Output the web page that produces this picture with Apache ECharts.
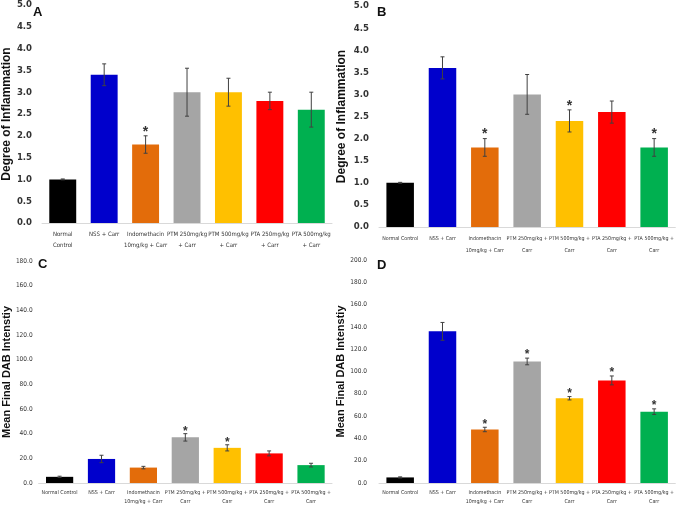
<!DOCTYPE html>
<html>
<head>
<meta charset="utf-8">
<script src="https://cdn.jsdelivr.net/npm/echarts@6/dist/echarts.min.js"></script>
<style>
  html, body { margin: 0; padding: 0; background: #fff; }
  #chart { width: 677px; height: 506px; }
</style>
</head>
<body>
<div id="chart"></div>
<script>
var catsA = ['Normal\nControl', 'NSS + Carr', 'Indomethacin\n10mg/kg + Carr', 'PTM 250mg/kg\n+ Carr', 'PTM 500mg/kg\n+ Carr', 'PTA 250mg/kg\n+ Carr', 'PTA 500mg/kg\n+ Carr']
var catsB = ['Normal Control', 'NSS + Carr', 'Indomethacin\n10mg/kg + Carr', 'PTM 250mg/kg +\nCarr', 'PTM 500mg/kg +\nCarr', 'PTA 250mg/kg +\nCarr', 'PTA 500mg/kg +\nCarr']

var barColors = ['#000000', '#0000CC', '#E36C0A', '#A5A5A5', '#FFC000', '#FF0000', '#00B050']

// panel A - degree of inflammation
var valA = [1.0, 3.4, 1.8, 3.0, 3.0, 2.8, 2.6]
var errA = [0.01, 0.25, 0.2, 0.55, 0.32, 0.2, 0.4]
var starA = [0, 0, 1, 0, 0, 0, 0]

// panel B
var valB = [1.0, 3.6, 1.8, 3.0, 2.4, 2.6, 1.8]
var errB = [0.01, 0.25, 0.2, 0.45, 0.25, 0.25, 0.2]
var starB = [0, 0, 1, 0, 1, 0, 1]

// panel C - mean final DAB intensity
var valC = [5, 19.5, 12.5, 37, 28.5, 24, 14.5]
var errC = [0.5, 3, 1, 3, 2.5, 2, 1.5]
var starC = [0, 0, 0, 1, 1, 0, 0]

// panel D
var valD = [5, 136, 48, 109, 76, 92, 64]
var errD = [0.5, 8, 2, 3, 1.5, 4, 2.5]
var starD = [0, 0, 1, 1, 1, 1, 1]

var narrow = "'Liberation Sans Narrow', 'DejaVu Sans Condensed', sans-serif"

var chart = echarts.init(document.getElementById('chart'))

function errRender(gap, starSize) {
  return function (params, api) {
    var x = api.value(0), y = api.value(1), e = api.value(2)
    var hi = api.coord([x, y + e])
    var lo = api.coord([x, y - e])
    var st = { stroke: '#404040', lineWidth: 1 }
    var kids = [
      { type: 'line', shape: { x1: hi[0], y1: hi[1], x2: lo[0], y2: lo[1] }, style: st },
      { type: 'line', shape: { x1: hi[0] - 2, y1: hi[1], x2: hi[0] + 2, y2: hi[1] }, style: st },
      { type: 'line', shape: { x1: lo[0] - 2, y1: lo[1], x2: lo[0] + 2, y2: lo[1] }, style: st }
    ]
    if (api.value(3)) {
      kids.push({
        type: 'text',
        style: {
          text: '*', x: hi[0], y: hi[1] - gap,
          align: 'center', verticalAlign: 'middle',
          font: 'bold ' + starSize + 'px Liberation Sans', fill: '#333'
        }
      })
    }
    return { type: 'group', children: kids }
  }
}

function panel(idx, cats, vals, errs, stars, gap, starSize) {
  var data = vals.map(function (v, i) {
    return { value: v, itemStyle: { color: barColors[i] } }
  })
  var edata = vals.map(function (v, i) { return [i, v, errs[i], stars[i]] })
  return [
    {
      type: 'bar', xAxisIndex: idx, yAxisIndex: idx,
      data: data, barWidth: '65%', silent: true, animation: false
    },
    {
      type: 'custom', xAxisIndex: idx, yAxisIndex: idx,
      data: edata, renderItem: errRender(gap, starSize),
      encode: { x: 0, y: 1 }, silent: true, animation: false, z: 5
    }
  ]
}

function xAx(idx, cats, size, margin, lh) {
  return {
    type: 'category', gridIndex: idx, data: cats,
    axisLine: { lineStyle: { color: '#d9d9d9' } },
    axisTick: { show: false },
    axisLabel: {
      interval: 0, fontFamily: narrow, fontSize: size, color: '#333',
      margin: margin, lineHeight: lh
    }
  }
}

function yAx(idx, max, step, name, nameGap, labelSize, labelBold, margin, nameSize) {
  return {
    type: 'value', gridIndex: idx, min: 0, max: max, interval: step,
    name: name, nameLocation: 'middle', nameGap: nameGap,
    nameTextStyle: { fontFamily: 'Liberation Sans', fontWeight: 'bold', fontSize: nameSize, color: '#111' },
    axisLine: { show: false }, axisTick: { show: false }, splitLine: { show: false },
    axisLabel: {
      fontFamily: narrow, fontSize: labelSize, color: '#333',
      fontWeight: labelBold ? 'bold' : 'normal', margin: margin,
      formatter: function (v) { return v.toFixed(1) }
    }
  }
}

function letter(t, x, y) {
  return {
    type: 'text', left: x, top: y,
    style: { text: t, font: 'bold 13px Liberation Sans', fill: '#111' }
  }
}

chart.setOption({
  animation: false,
  grid: [
    { left: 34, top: 5, width: 298, height: 218 },
    { left: 379, top: 6, width: 297, height: 221 },
    { left: 34, top: 261, width: 298, height: 225 },
    { left: 379, top: 260, width: 297, height: 226 }
  ],
  xAxis: [
    xAx(0, catsA, 6, 6, 11),
    xAx(1, catsB, 5.3, 6, 12),
    xAx(2, catsB, 5.3, 5, 9),
    xAx(3, catsB, 5.3, 5, 9)
  ],
  yAxis: [
    yAx(0, 5, 0.5, 'Degree of Inflammation', 22, 9.5, true, 10, 12),
    yAx(1, 5, 0.5, 'Degree of Inflammation', 31, 9.5, true, 10, 12),
    yAx(2, 180, 20, 'Mean Final DAB Intenstiy', 23, 6.5, false, 6, 11),
    yAx(3, 200, 20, 'Mean Final DAB Intenstiy', 32, 6.5, false, 12, 11)
  ],
  graphic: [
    letter('A', 33, 6),
    letter('B', 377, 6),
    letter('C', 38, 258),
    letter('D', 377, 259)
  ],
  series: [].concat(
    panel(0, catsA, valA, errA, starA, 4, 14),
    panel(1, catsB, valB, errB, starB, 4, 14),
    panel(2, catsB, valC, errC, starC, 2, 12),
    panel(3, catsB, valD, errD, starD, 3, 12)
  )
})
</script>
</body>
</html>
